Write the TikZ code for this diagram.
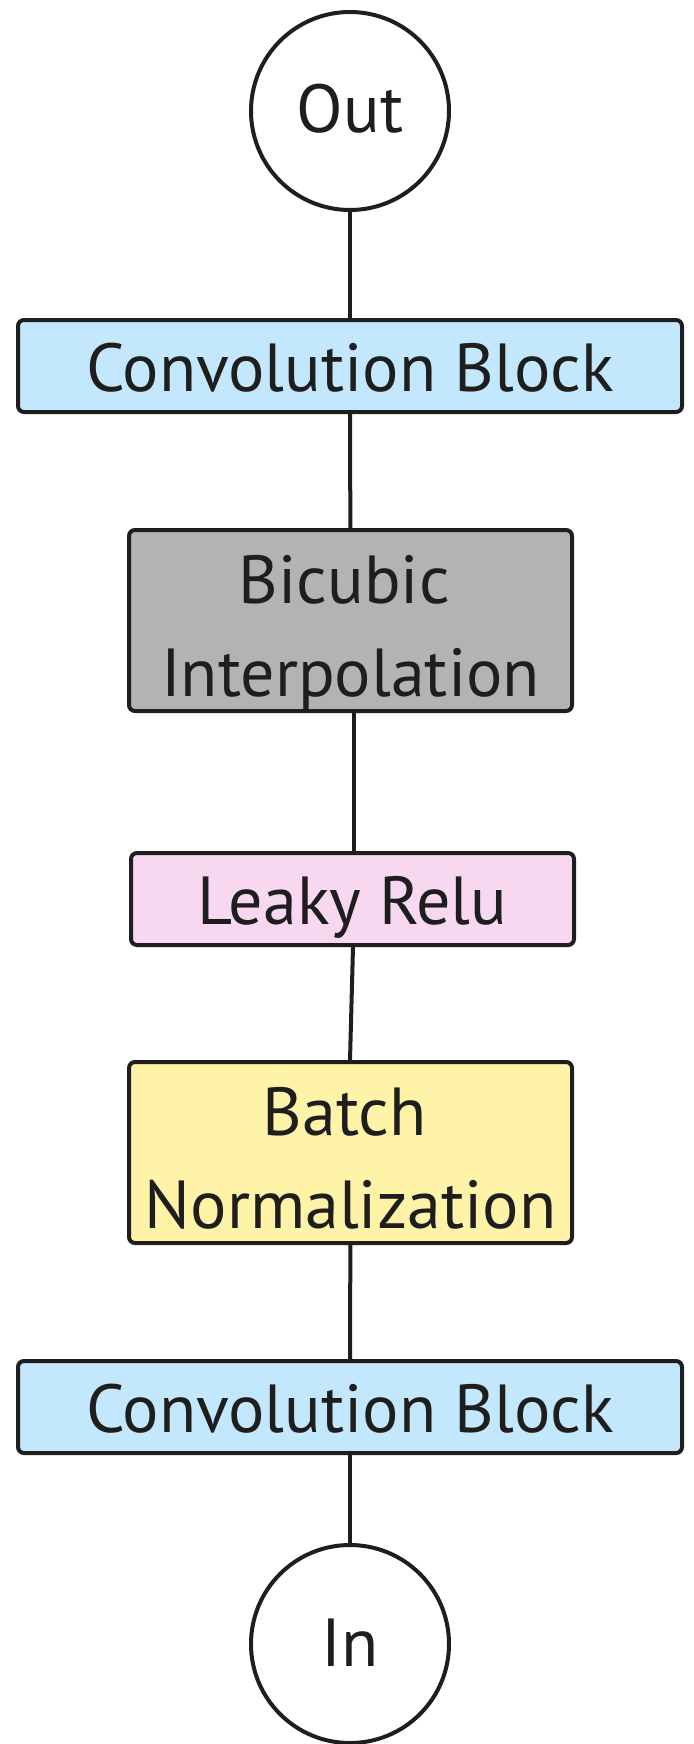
\documentclass[tikz,border=0pt]{standalone}
\usepackage{fontspec}
\setmainfont{PT Sans}
\usepackage{xcolor}
\usetikzlibrary{positioning}
\definecolor{convblue}{HTML}{C3E8FD}
\definecolor{interpgray}{HTML}{B3B3B3}
\definecolor{relupink}{HTML}{F8D8F0}
\definecolor{normyellow}{HTML}{FEF3A6}
\definecolor{inkdark}{HTML}{1E1E1E}

\begin{document}
\begin{tikzpicture}[x=1pt, y=-1pt,
	font=\fontsize{68}{93}\selectfont,
	every node/.style = {text=inkdark},
	term/.style = {draw=inkdark, line width=4pt, circle, fill=white, inner sep=0pt, minimum size=198pt, text height=44pt, text depth=0pt},
	layer/.style = {draw=inkdark, line width=4pt, rounded corners=6pt, align=center, inner sep=0pt, minimum height=92pt, text height=50pt, text depth=0pt},
	twoline/.style = {minimum height=181pt, text height=151pt, text depth=0pt},
	link/.style = {draw=inkdark, line width=4pt}]
	
	\useasboundingbox (0,0) rectangle (693,1744);
	
	\node[term] (out) at (350,111) {Out};
	\node[layer, fill=convblue, minimum width=664pt] (convtop) at (350,366) {Convolution Block};
	\node[layer, twoline, fill=interpgray, minimum width=443pt] (bicubic) at (350.5,620.5) {Bicubic\hspace*{0.18em}\\Interpolation};
	\node[layer, fill=relupink, minimum width=443pt] (leaky) at (352.5,899) {Leaky Relu};
	\node[layer, twoline, fill=normyellow, minimum width=443pt] (batchnorm) at (350.5,1152.5) {Batch\hspace*{0.18em}\\Normalization};
	\node[layer, fill=convblue, minimum width=664pt] (convbot) at (350,1407) {Convolution Block};
	\node[term] (in) at (350,1644) {In};
	
	\draw[link] (out) -- (convtop);
	\draw[link] (convtop) -- (bicubic);
	\draw[link] ([xshift=3.5pt]bicubic.south) -- ([xshift=1.5pt]leaky.north);
	\draw[link] ([xshift=0.5pt]leaky.south) -- ([xshift=-0.5pt]batchnorm.north);
	\draw[link] (batchnorm) -- (convbot);
	\draw[link] (convbot) -- (in);
\end{tikzpicture}
\end{document}
